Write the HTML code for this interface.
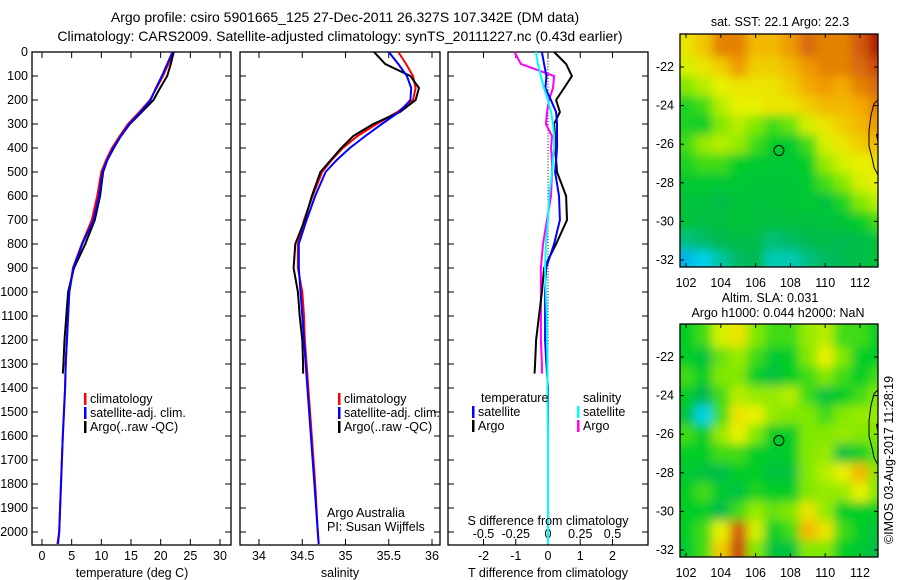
<!DOCTYPE html>
<html><head><meta charset="utf-8"><style>
html,body{margin:0;background:#fff;width:900px;height:580px;overflow:hidden}
svg{display:block;font-family:"Liberation Sans",sans-serif}
text{font-size:12.5px;fill:#000}
</style></head><body>
<svg id="fig" width="900" height="580" viewBox="0 0 900 580">
<defs>
<filter id="blur" x="-5%" y="-5%" width="110%" height="110%"><feGaussianBlur stdDeviation="5"/></filter>
<clipPath id="clipTop"><rect x="680" y="34" width="198" height="233"/></clipPath>
<clipPath id="clipBot"><rect x="680" y="324" width="198" height="233"/></clipPath>
</defs>
<text x="345" y="22" text-anchor="middle" style="font-size:14px">Argo profile: csiro 5901665_125 27-Dec-2011 26.327S 107.342E (DM data)</text>
<text x="340" y="41" text-anchor="middle" style="font-size:14px">Climatology: CARS2009. Satellite-adjusted climatology: synTS_20111227.nc (0.43d earlier)</text>
<g id="g"></g>
</svg>
<script>
// ---------- data ----------
const depthT = [0,50,100,150,200,250,300,350,400,450,500,600,700,800,900,1000,1100,1200,1300,1400,1600,1800,2000,2050];
const tempClim = [22.1,21.3,20.4,19.3,18.2,16.4,14.5,13.1,11.8,10.8,10.0,9.3,8.4,6.7,5.2,4.6,4.4,4.2,4.0,3.9,3.5,3.2,2.9,2.6];
const tempSat  = [22.0,21.1,20.2,19.2,18.3,16.6,14.7,13.3,12.0,11.0,10.2,9.6,8.7,6.8,5.3,4.6,4.4,4.2,4.0,3.9,3.5,3.2,2.9,2.7];
const depthArgo = [0,50,100,150,200,250,300,350,400,450,500,600,700,800,900,1000,1100,1200,1300,1340];
const tempArgo = [22.2,21.7,21.1,19.9,18.8,16.8,14.8,13.3,12.1,11.0,10.3,9.8,8.9,7.3,5.4,4.4,4.1,3.8,3.6,3.5];
const salClim = [35.61,35.70,35.78,35.81,35.78,35.60,35.36,35.14,34.97,34.84,34.73,34.62,34.52,34.45,34.45,34.50,34.52,34.53,34.55,34.57,34.61,34.65,34.68,34.69];
const salSat  = [35.50,35.61,35.71,35.76,35.75,35.62,35.42,35.23,35.05,34.90,34.77,34.65,34.55,34.46,34.46,34.48,34.50,34.52,34.54,34.56,34.60,34.64,34.68,34.69];
const salArgo = [35.33,35.46,35.75,35.85,35.81,35.63,35.32,35.09,34.95,34.83,34.71,34.61,34.53,34.42,34.40,34.45,34.47,34.50,34.51,34.51];
const dTsat = [-0.19,-0.12,-0.05,-0.08,0.09,0.25,0.28,0.28,0.28,0.25,0.22,0.34,0.37,0.19,-0.06,-0.09,-0.09,-0.09,-0.05,0,0,0,0,0];
const dTargo = [0.19,0.56,0.74,0.50,0.25,0.37,0.19,0.22,0.22,0.25,0.28,0.56,0.59,0.25,-0.12,-0.19,-0.28,-0.37,-0.40,-0.42];
const dSsat = [-0.094,-0.078,-0.055,-0.031,0,0.023,0.039,0.047,0.047,0.039,0.031,0.008,0,-0.016,-0.023,-0.016,-0.01,-0.008,-0.005,-0.004,0,0,0,0];
const dSargo = [-0.26,-0.21,0.047,0.039,0.008,-0.008,-0.016,0.031,0.023,0.031,0.031,0.023,-0.008,-0.039,-0.055,-0.055,-0.055,-0.055,-0.047,-0.047];
const depthTicks = [0,100,200,300,400,500,600,700,800,900,1000,1100,1200,1300,1400,1500,1600,1700,1800,1900,2000];
const tempTicks = [0,5,10,15,20,25,30];
const salTicks = [34,34.5,35,35.5,36];
const tdTicks = [-2,-1,0,1,2];
const sdTicks = [-0.5,-0.25,0,0.25,0.5];
const sdTickLabels = ['-0.5','-0.25','0','0.25','0.5'];
const latTicks = [-22,-24,-26,-28,-30,-32];
const lonTicks = [102,104,106,108,110,112];
const gridLats = [-21,-22,-23,-24,-25,-26,-27,-28,-29,-30,-31,-32];
const gridLons = [102,103,104,105,106,107,108,109,110,111,112,113];
const sstGrid = [
[.72,.76,.85,.85,.78,.78,.82,.88,.85,.85,.9,.98],
[.68,.72,.75,.82,.75,.75,.78,.82,.85,.85,.88,.92],
[.6,.65,.7,.72,.72,.72,.75,.8,.82,.8,.85,.88],
[.52,.55,.65,.7,.7,.72,.72,.75,.78,.78,.8,.85],
[.52,.5,.6,.65,.6,.55,.58,.68,.72,.75,.78,.82],
[.55,.62,.65,.62,.55,.5,.48,.55,.68,.72,.75,.78],
[.52,.55,.55,.5,.48,.47,.47,.5,.62,.68,.7,.72],
[.48,.48,.47,.47,.46,.46,.46,.48,.55,.6,.68,.7],
[.45,.45,.42,.46,.45,.45,.46,.48,.45,.52,.6,.65],
[.45,.43,.44,.46,.45,.44,.44,.44,.45,.46,.5,.55],
[.35,.38,.4,.42,.42,.36,.38,.4,.42,.4,.42,.45],
[.2,.25,.32,.38,.4,.3,.3,.35,.38,.4,.42,.45]];
const slaGrid = [
[.5,.55,.68,.72,.6,.55,.55,.62,.65,.55,.55,.5],
[.5,.45,.58,.62,.55,.48,.5,.6,.7,.6,.5,.5],
[.55,.5,.6,.6,.5,.45,.5,.55,.6,.55,.5,.55],
[.5,.4,.55,.65,.62,.62,.65,.55,.45,.5,.55,.6],
[.45,.25,.55,.72,.7,.62,.6,.6,.55,.6,.62,.62],
[.55,.5,.62,.7,.6,.5,.5,.6,.6,.62,.6,.6],
[.5,.5,.55,.55,.5,.48,.5,.6,.62,.45,.5,.58],
[.48,.45,.42,.5,.5,.45,.45,.6,.65,.7,.78,.6],
[.5,.55,.48,.45,.52,.5,.5,.6,.62,.62,.7,.6],
[.5,.5,.42,.55,.62,.58,.6,.72,.62,.5,.5,.5],
[.5,.55,.7,.9,.68,.5,.55,.78,.72,.55,.5,.45],
[.48,.55,.75,.92,.6,.45,.45,.6,.6,.5,.48,.42]];
const argoLat = -26.327, argoLon = 107.342;
// ---------- helpers ----------
const NS='http://www.w3.org/2000/svg';
const G=document.getElementById('g');
function mk(tag,attrs,parent){const e=document.createElementNS(NS,tag);for(const k in attrs)e.setAttribute(k,attrs[k]);(parent||G).appendChild(e);return e;}
function txt(x,y,s,anchor,parent,size){const t=mk('text',{x:x,y:y,'text-anchor':anchor||'start'},parent);if(size)t.style.fontSize=size;t.textContent=s;return t;}
const TOP=52, PXM=0.24;
const yD=d=>TOP+d*PXM;
const BOT=545;
function lin(a0,p0,a1,p1){return v=>p0+(v-a0)*(p1-p0)/(a1-a0);}
function panel(x0,x1,name){
  const r=mk('rect',{x:x0,y:TOP,width:x1-x0,height:BOT-TOP,fill:'none',stroke:'#000','stroke-width':1.3});
  
  
  depthTicks.forEach(d=>{mk('line',{x1:x0,x2:x0+6,y1:yD(d),y2:yD(d),stroke:'#000'});mk('line',{x1:x1-6,x2:x1,y1:yD(d),y2:yD(d),stroke:'#000'});});
}
function line(xs,ds,sx,color,name,w){
  const pts=xs.map((v,i)=>sx(v).toFixed(1)+','+yD(ds[i]).toFixed(1)).join(' ');
  const p=mk('polyline',{points:pts,fill:'none',stroke:color,'stroke-width':w||2});
  
  
}
function xticks(vals,labels,sx,y){vals.forEach((v,i)=>{const x=sx(v);mk('line',{x1:x,x2:x,y1:TOP,y2:TOP+6,stroke:'#000'});mk('line',{x1:x,x2:x,y1:BOT-6,y2:BOT,stroke:'#000'});const t=txt(x,y,labels[i],'middle');});}
function legend(x,y,items){items.forEach((it,i)=>{mk('rect',{x:x,y:y+i*14-10,width:2.5,height:12,fill:it[0]});const t=txt(x+6,y+i*14,it[1]);});}
// depth labels
depthTicks.forEach(d=>{const t=txt(28,yD(d)+4,String(d),'end');});
// Panel 1 temperature
const sxT=lin(0,42,30,220);
panel(32,231,'temperature-panel');
xticks(tempTicks,tempTicks.map(String),sxT,560);
line(tempClim,depthT,sxT,'#f00','temp-climatology-line');
line(tempArgo,depthArgo,sxT,'#000','temp-argo-line');
line(tempSat,depthT,sxT,'#00f','temp-satellite-line');
legend(84,403,[['#f00','climatology'],['#00f','satellite-adj. clim.'],['#000','Argo(..raw -QC)']]);
txt(132,577,'temperature (deg C)','middle');
// Panel 2 salinity
const sxS=lin(34,259,36,432);
panel(240,440,'salinity-panel');
xticks(salTicks,['34','34.5','35','35.5','36'],sxS,560);
line(salClim,depthT,sxS,'#f00','sal-climatology-line');
line(salArgo,depthArgo,sxS,'#000','sal-argo-line');
line(salSat,depthT,sxS,'#00f','sal-satellite-line');
legend(338,403,[['#f00','climatology'],['#00f','satellite-adj. clim.'],['#000','Argo(..raw -QC)']]);
txt(327,517,'Argo Australia');
txt(327,531,'PI: Susan Wijffels');
txt(340,577,'salinity','middle');
// Panel 3 differences
const sxTD=lin(0,548,2,612.5);
const sxSD=lin(0,548,0.5,612.5);
panel(448,648,'difference-panel');
xticks(tdTicks,tdTicks.map(String),sxTD,560);
sdTicks.forEach((v,i)=>{const t=txt(sxSD(v),538,sdTickLabels[i],'middle');});
for(let d=0;d<=2050;d+=12){mk('rect',{x:sxTD(0)-0.5,y:yD(d),width:1,height:1,fill:'#000'});}
line(dSargo,depthArgo,sxSD,'#f0f','sal-argo-diff-line');
line(dTargo,depthArgo,sxTD,'#000','temp-argo-diff-line');
line(dTsat,depthT,sxTD,'#00f','temp-satellite-diff-line');
line(dSsat,depthT,sxSD,'#0ff','sal-satellite-diff-line');
txt(481,402,'temperature');
txt(583,402,'salinity');
legend(472,416,[['#00f','satellite'],['#000','Argo']]);
legend(577,416,[['#0ff','satellite'],['#f0f','Argo']]);
txt(548,525,'S difference from climatology','middle');
txt(548,577,'T difference from climatology','middle');
// ---------- maps ----------
function colormap(v){
  const st=[[0,[0,70,255]],[.25,[0,210,230]],[.4,[0,185,80]],[.5,[0,205,40]],[.6,[130,232,0]],[.7,[232,242,0]],[.8,[245,170,0]],[.9,[210,90,10]],[1,[165,0,0]]];
  v=Math.max(0,Math.min(1,v));
  for(let i=1;i<st.length;i++){if(v<=st[i][0]){const a=st[i-1],b=st[i],f=(v-a[0])/(b[0]-a[0]);return 'rgb('+a[1].map((c,k)=>Math.round(c+(b[1][k]-c)*f)).join(',')+')';}}
  return 'rgb(165,0,0)';
}
function map(y0,grid,clip,name){
  const sx=lin(102,686,112,860), sy=lin(-22,y0+33,-32,y0+226);
  const gEl=mk('g',{'clip-path':'url(#'+clip+')'});
  
  
  const inner=mk('g',{filter:'url(#blur)'},gEl);
  const n=grid.length, m=grid[0].length;
  grid.forEach((row,i)=>row.forEach((v,j)=>{
    let x=sx(gridLons[j]-0.5), x2=sx(gridLons[j]+0.5);
    let y=sy(gridLats[i]+0.5), y2=sy(gridLats[i]-0.5);
    if(j==0)x=660; if(j==m-1)x2=900;
    if(i==0)y=y0-20; if(i==n-1)y2=y0+260;
    mk('rect',{x:x,y:y,width:x2-x+0.6,height:y2-y+0.6,fill:colormap(v)},inner);
  }));
  // coastline
  mk('path',{d:`M878 ${sy(-23.7)} L874 ${sy(-23.9)} L871 ${sy(-24.5)} L869 ${sy(-25.3)} L869 ${sy(-26.1)} L872 ${sy(-26.7)} L874 ${sy(-27.2)} L878 ${sy(-27.6)}`,fill:'none',stroke:'#000','stroke-width':1},gEl);
  mk('path',{d:`M876 ${sy(-25.5)} L878 ${sy(-25.4)} L878 ${sy(-26)} Z`,fill:'#000'},gEl);
  const c=mk('circle',{cx:sx(argoLon),cy:sy(argoLat),r:5,fill:'none',stroke:'#000','stroke-width':1});
  
  
  mk('rect',{x:680,y:y0,width:198,height:233,fill:'none',stroke:'#000','stroke-width':1.3});
  latTicks.forEach(l=>{const y=sy(l);mk('line',{x1:680,x2:684,y1:y,y2:y,stroke:'#000'});mk('line',{x1:874,x2:878,y1:y,y2:y,stroke:'#000'});const t=txt(674,y+4,String(l),'end');});
  lonTicks.forEach(l=>{const x=sx(l);mk('line',{x1:x,x2:x,y1:y0,y2:y0+4,stroke:'#000'});mk('line',{x1:x,x2:x,y1:y0+229,y2:y0+233,stroke:'#000'});const t=txt(x,y0+253,String(l),'middle');});
}
map(34,sstGrid,'clipTop','sst-map');
map(324,slaGrid,'clipBot','sla-map');
txt(780,26,'sat. SST: 22.1 Argo: 22.3','middle');
txt(770,302,'Altim. SLA: 0.031','middle');
txt(778,317,'Argo h1000: 0.044 h2000: NaN','middle');
const im=txt(0,0,'©IMOS 03-Aug-2017 11:28:19','middle');
im.setAttribute('transform','translate(893,460) rotate(-90)');


</script>
</body></html>
